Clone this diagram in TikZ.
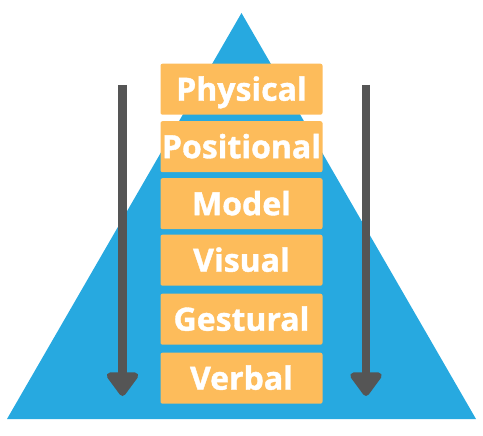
\documentclass[tikz,border=0pt]{standalone}
\usepackage{fontspec}
\setmainfont[BoldFeatures={FakeBold=1.2}]{Open Sans}
\usetikzlibrary{arrows.meta}
\definecolor{triblue}{HTML}{27A9E0}
\definecolor{boxorange}{HTML}{FDBC5B}
\definecolor{arrgray}{HTML}{555555}
\tikzset{
  layerbox/.style={fill=boxorange, draw=none, rounded corners=2pt, minimum width=162pt, minimum height=51pt, inner sep=0pt, text height=23pt, text depth=0pt, text=white, font=\fontsize{32}{32}\selectfont\bfseries, anchor=north},
  downarrow/.style={draw=arrgray, line width=8.5pt, -{Triangle[width=36pt,length=26pt,round]}, line join=round}
}
\begin{document}
\begin{tikzpicture}[x=1pt,y=-1pt]
\useasboundingbox (0,0) rectangle (483,436);
\coordinate (apex) at (241.5,13);
\coordinate (bl) at (7,419);
\coordinate (br) at (476,419);
\fill[triblue] (apex) -- (bl) -- (br) -- cycle;
\node[layerbox] (physical) at (241.5,63.5) {Physical};
\node[layerbox] (positional) at (241.5,121) {Positional};
\node[layerbox] (model) at (241.5,178) {Model};
\node[layerbox] (visual) at (241.5,234.5) {Visual};
\node[layerbox] (gestural) at (241.5,293.5) {Gestural};
\node[layerbox] (verbal) at (241.5,352.5) {Verbal};
\coordinate (l1) at (122.5,85);
\coordinate (l2) at (122.5,396);
\coordinate (r1) at (366,85);
\coordinate (r2) at (366,396);
\draw[downarrow] (l1) -- (l2);
\draw[downarrow] (r1) -- (r2);
\end{tikzpicture}
\end{document}
